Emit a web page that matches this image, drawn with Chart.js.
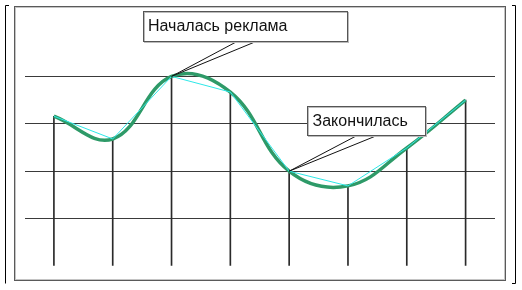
<!DOCTYPE html>
<html>
<head>
<meta charset="utf-8">
<script src="https://cdn.jsdelivr.net/npm/chart.js@4/dist/chart.umd.min.js"></script>
<style>
  html, body { margin: 0; padding: 0; background: #fff; }
  #chart { display: block; }
</style>
</head>
<body>
<canvas id="chart" width="522" height="290"></canvas>
<script>
// Chart data
const categories = ['1', '2', '3', '4', '5', '6', '7', '8'];
const values = [3.16, 2.68, 4.0, 3.67, 2.0, 1.69, 2.49, 3.5];
const gridValues = [1, 2, 3, 4];
const callouts = [
  { text: 'Началась реклама', index: 2 },
  { text: 'Закончилась', index: 4 }
];

// Colors
const colors = {
  curve: '#2e9a68',
  straight: '#2ee8e8',
  drop: '#2a2a2a',
  grid: '#3a3a3a',
  frame: '#5a5a5a'
};

// Callout boxes (pixel layout) and pointer bases
const calloutLayout = [
  { x: 143.5, y: 11.5, w: 204, h: 30, textX: 148, baseY: 31, base: [237, 256] },
  { x: 307.5, y: 106.5, w: 118, h: 29, textX: 312.5, baseY: 125.5, base: [357, 377] }
];

// Frame and bracket decoration
const framePlugin = {
  id: 'frame',
  beforeDraw(chart) {
    const ctx = chart.ctx;
    ctx.save();
    ctx.fillStyle = '#fff';
    ctx.fillRect(0, 0, chart.width, chart.height);
    ctx.lineWidth = 1;
    ctx.strokeStyle = '#c4c4c4';
    ctx.strokeRect(15.5, 7.5, 489, 272);
    ctx.strokeStyle = colors.frame;
    ctx.strokeRect(14.5, 6.5, 491, 274);
    // brackets
    ctx.strokeStyle = '#000';
    ctx.beginPath();
    ctx.moveTo(9, 5.5); ctx.lineTo(5.5, 5.5); ctx.lineTo(5.5, 283.5);
    ctx.moveTo(512, 5.5); ctx.lineTo(515.5, 5.5); ctx.lineTo(515.5, 283.5); ctx.lineTo(512, 283.5);
    ctx.stroke();
    ctx.restore();
  }
};

// Callout annotations pointing at data points
const calloutPlugin = {
  id: 'callouts',
  afterDatasetsDraw(chart) {
    const ctx = chart.ctx;
    const meta = chart.getDatasetMeta(2);
    ctx.save();
    callouts.forEach((c, i) => {
      const box = calloutLayout[i];
      const pt = meta.data[c.index];
      // pointer wedge
      ctx.beginPath();
      ctx.moveTo(box.base[0], box.y + box.h);
      ctx.lineTo(pt.x, pt.y);
      ctx.lineTo(box.base[1], box.y + box.h);
      ctx.fillStyle = '#fff';
      ctx.fill();
      ctx.strokeStyle = '#111';
      ctx.lineWidth = 1;
      ctx.stroke();
      // box
      ctx.fillStyle = '#fff';
      ctx.fillRect(box.x, box.y, box.w, box.h);
      ctx.strokeStyle = '#bbb';
      ctx.strokeRect(box.x + 1, box.y + 1, box.w, box.h);
      ctx.strokeStyle = '#555';
      ctx.strokeRect(box.x, box.y, box.w, box.h);
      ctx.fillStyle = '#111';
      ctx.font = '16px "Liberation Sans", Arial, sans-serif';
      ctx.textBaseline = 'alphabetic';
      ctx.fillText(c.text, box.textX, box.baseY);
    });
    ctx.restore();
  }
};

new Chart(document.getElementById('chart'), {
  data: {
    labels: categories,
    datasets: [
      {
        type: 'bar',
        data: values,
        backgroundColor: colors.drop,
        barThickness: 1,
        order: 3
      },
      {
        type: 'line',
        data: values,
        borderColor: colors.curve,
        borderWidth: 3.5,
        tension: 0.4,
        pointRadius: 0,
        fill: false,
        order: 2
      },
      {
        type: 'line',
        data: values,
        borderColor: colors.straight,
        borderWidth: 1,
        tension: 0,
        pointRadius: 0,
        fill: false,
        order: 1
      }
    ]
  },
  options: {
    responsive: false,
    animation: false,
    devicePixelRatio: 1,
    layout: {
      padding: { left: 24.5, right: 27, top: 29, bottom: 24 }
    },
    plugins: {
      legend: { display: false },
      tooltip: { enabled: false }
    },
    scales: {
      x: {
        display: false,
        offset: true
      },
      y: {
        min: 0,
        max: 5,
        ticks: { display: false, stepSize: 1 },
        border: { display: false },
        grid: {
          drawTicks: false,
          color: ctx => gridValues.includes(ctx.tick.value) ? colors.grid : 'rgba(0,0,0,0)'
        }
      }
    }
  },
  plugins: [framePlugin, calloutPlugin]
});
</script>
</body>
</html>
